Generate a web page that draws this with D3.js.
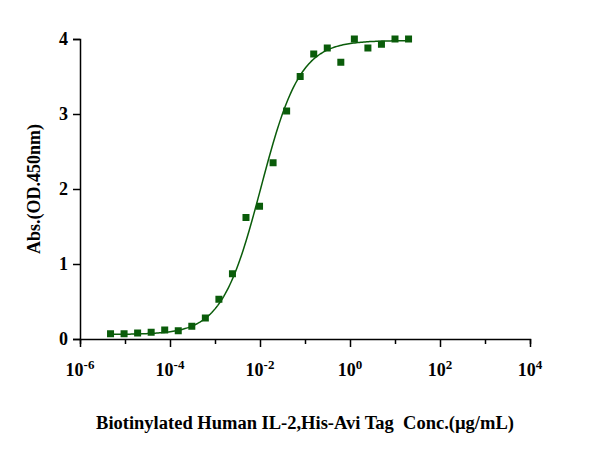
<!DOCTYPE html><html><head><meta charset="utf-8">
<script src="https://cdn.jsdelivr.net/npm/d3@7/dist/d3.min.js"></script>
<style>body{margin:0;background:#fff}text{font-family:"Liberation Serif","Times New Roman",serif;font-weight:bold}</style>
</head><body><svg id="c" width="593" height="454"></svg>
<script>
const conc = [20,10,5,2.5,1.25,0.625,0.3125,0.15625,0.078125,0.0390625,0.01953125,0.009765625,0.0048828125,0.00244140625,0.001220703125,0.0006103515625,0.00030517578125,0.000152587890625,0.0000762939453125,0.00003814697265625,0.000019073486328125,0.0000095367431640625,0.00000476837158203125].reverse();
const absVals = [0.07,0.07,0.08,0.09,0.12,0.11,0.17,0.28,0.53,0.87,1.62,1.77,2.35,3.04,3.50,3.80,3.88,3.69,4.00,3.88,3.93,4.00,4.00];
const fit = {bottom:0.06, top:3.98, ec50:0.0105, hill:1.0};
const xTicks = [1e-6,1e-4,1e-2,1e0,1e2,1e4];
const xExp = ["-6","-4","-2","0","2","4"];
const yTicks = [0,1,2,3,4];
const svg = d3.select("#c");
const x = d3.scaleLog().domain([1e-6,1e4]).range([80,530]);
const y = d3.scaleLinear().domain([0,4]).range([339,39]);
const col = "#0a5c0a";
const ax = svg.append("g").attr("transform","translate(0,339)").call(d3.axisBottom(x).tickValues(d3.range(-6,5).map(e=>Math.pow(10,e))).tickFormat("").tickSize(5));
ax.selectAll("line,path").attr("stroke","#000").attr("stroke-width",1.5);
ax.selectAll(".tick line").attr("y2",d=>xTicks.some(t=>Math.abs(Math.log10(t)-Math.log10(d))<1e-9)?8:5);
const ay = svg.append("g").attr("transform","translate(80,0)").call(d3.axisLeft(y).tickValues(yTicks).tickFormat(d3.format("d")).tickSize(7));
ay.selectAll("line,path").attr("stroke","#000").attr("stroke-width",1.5);
ay.selectAll("text").attr("font-size",18).attr("font-family","Liberation Serif").attr("font-weight","bold").attr("fill","#000").attr("dx",-2);
xTicks.forEach((t,i)=>{
  const tx = svg.append("text").attr("x",x(t)).attr("y",376).attr("text-anchor","middle").attr("font-size",18);
  tx.append("tspan").text("10");
  tx.append("tspan").attr("dy",-7).attr("font-size",13).text(xExp[i]);
});
const f = c => fit.bottom + (fit.top-fit.bottom)/(1+Math.pow(fit.ec50/c,fit.hill));
const cs = d3.range(0,201).map(i=>Math.pow(10,Math.log10(conc[0])+i/200*(Math.log10(conc[conc.length-1])-Math.log10(conc[0]))));
svg.append("path").attr("d",d3.line().x(c=>x(c)).y(c=>y(f(c)))(cs)).attr("fill","none").attr("stroke",col).attr("stroke-width",1.5);
svg.selectAll("rect.p").data(conc).join("rect").attr("x",(c)=>x(c)-3.5).attr("y",(c,i)=>y(absVals[i])-3.5).attr("width",7).attr("height",7).attr("fill",col);
svg.append("text").attr("x",305).attr("y",429).attr("text-anchor","middle").attr("font-size",18.5).attr("xml:space","preserve").text("Biotinylated Human IL-2,His-Avi Tag  Conc.(\u00b5g/mL)");
svg.append("text").attr("transform","translate(40,189) rotate(-90)").attr("text-anchor","middle").attr("font-size",18).text("Abs.(OD.450nm)");
</script></body></html>
